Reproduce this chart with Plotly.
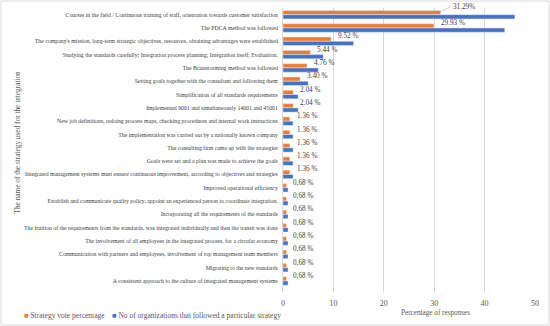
import plotly.graph_objects as go

categories = [
    "Courses in the field / Continuous training of staff, orientation towards customer satisfaction",
    "The PDCA method was followed",
    "The company's mission, long-term strategic objectives, resources, obtaining advantages were established",
    "Studying the standards carefully; Integration process planning; Integration itself; Evaluation.",
    "The Brainstorming method was followed",
    "Setting goals together with the consultant and following them",
    "Simplification of all standards requirements",
    "Implemented 9001 and simultaneously 14001 and 45001",
    "New job definitions, redoing process maps, checking procedures and internal work instructions",
    "The implementation was carried out by a nationally known company",
    "The consulting firm came up with the strategies",
    "Goals were set and a plan was made to achieve the goals",
    "Integrated management systems must ensure continuous improvement, according to objectives and strategies",
    "Improved operational efficiency",
    "Establish and communicate quality policy, appoint an experienced person to coordinate integration,",
    "Incorporating all the requirements of the standards",
    "The fruition of the requirements from the standards, was integrated individually and then the transit was done",
    "The involvement of all employees in the integrated process, for a circular economy",
    "Communication with partners and employees, involvement of top management team members",
    "Migrating to the new standards",
    "A consistent approach to the culture of integrated management systems",
]
vote_pct = [31.29, 29.93, 9.52, 5.44, 4.76, 3.40, 2.04, 2.04, 1.36, 1.36, 1.36, 1.36, 1.36,
            0.68, 0.68, 0.68, 0.68, 0.68, 0.68, 0.68, 0.68]
pct_labels = ["31.29%", "29.93 %", "9.52 %", "5.44 %", "4.76 %", "3.40 %", "2.04 %", "2.04 %",
              "1.36 %", "1.36 %", "1.36 %", "1.36 %", "1.36 %",
              "0,68 %", "0,68 %", "0,68 %", "0,68 %", "0,68 %", "0,68 %", "0,68 %", "0,68 %"]
num_orgs = [46, 44, 14, 8, 7, 5, 3, 3, 2, 2, 2, 2, 2, 1, 1, 1, 1, 1, 1, 1, 1]
x_ticks = [0, 10, 20, 30, 40, 50]
series_names = ["Strategy vote percentage", "No of organizations that followed a particular strategy"]
colors = ["#ED7D31", "#4472C4"]

W, H = 550, 326
ML, MR, MT, MB = 283, 15, 8, 34
pw, ph = W - ML - MR, H - MT - MB

serif = "Liberation Serif"
fig = go.Figure()
fig.add_trace(go.Bar(
    y=categories, x=vote_pct, orientation="h", name=series_names[0],
    marker_color=colors[0],
))
fig.add_trace(go.Bar(
    y=categories, x=num_orgs, orientation="h", name=series_names[1],
    marker_color=colors[1],
))

fig.update_layout(
    width=W, height=H,
    margin=dict(l=ML, r=MR, t=MT, b=MB, autoexpand=False),
    paper_bgcolor="white", plot_bgcolor="white",
    barmode="group", bargap=0.36, bargroupgap=0,
    font=dict(family=serif, color="#404040"),
    showlegend=False,
)
fig.update_xaxes(range=[0, 50], tickvals=x_ticks, showgrid=True, gridcolor="#d9d9d9",
                 gridwidth=1, zeroline=False, showline=False,
                 tickfont=dict(family=serif, size=8, color="#595959"), ticks="",
                 ticklabelstandoff=5)
fig.update_yaxes(autorange="reversed", tickfont=dict(family=serif, size=5.8, color="#404040"),
                 showgrid=False, ticks="", showline=True, linecolor="#d9d9d9", linewidth=1,
                 ticklabelstandoff=3)

# data labels
for i, (v, lab) in enumerate(zip(vote_pct, pct_labels)):
    if i == 0:
        fig.add_annotation(x=v, y=categories[i], text=lab, showarrow=True, arrowhead=0,
                           arrowwidth=0.6, arrowcolor="#a6a6a6", ax=10, ay=-5,
                           xanchor="left", yanchor="middle", yshift=3,
                           font=dict(family=serif, size=7.2, color="#404040"))
    else:
        fig.add_annotation(x=v, y=categories[i], text=lab, showarrow=False,
                           xanchor="left", yanchor="middle", xshift=5, yshift=5,
                           font=dict(family=serif, size=7.2, color="#404040"))

fig.add_annotation(text="Percentage of responses", xref="paper", yref="paper",
                   x=(435 - ML) / pw, y=(H - MB - 318.5) / ph, showarrow=False,
                   font=dict(family=serif, size=7.2, color="#595959"))
fig.add_annotation(text="The name of the strategy used for the integration", xref="paper", yref="paper",
                   x=(10 - ML) / pw, y=(H - MB - 142) / ph, showarrow=False, textangle=-90,
                   font=dict(family=serif, size=7.3, color="#595959"))

# legend
leg_x = [22, 110]
for name, c, lx in zip(series_names, colors, leg_x):
    fig.add_annotation(text=f"<span style='color:{c}'>■</span> {name}", xref="paper", yref="paper",
                       x=(lx - ML) / pw, y=(H - MB - 315) / ph, xanchor="left", yanchor="middle",
                       showarrow=False, font=dict(family=serif, size=7.5, color="#595959"))

fig.add_shape(type="rect", xref="paper", yref="paper",
              x0=(1 - ML) / pw, x1=(549 - ML) / pw,
              y0=(H - MB - 325) / ph, y1=(H - MB - 1) / ph,
              line=dict(color="#d9d9d9", width=1))

fig.write_html("out.html", config={"displayModeBar": False},
               post_script="document.body.style.margin='0';")
